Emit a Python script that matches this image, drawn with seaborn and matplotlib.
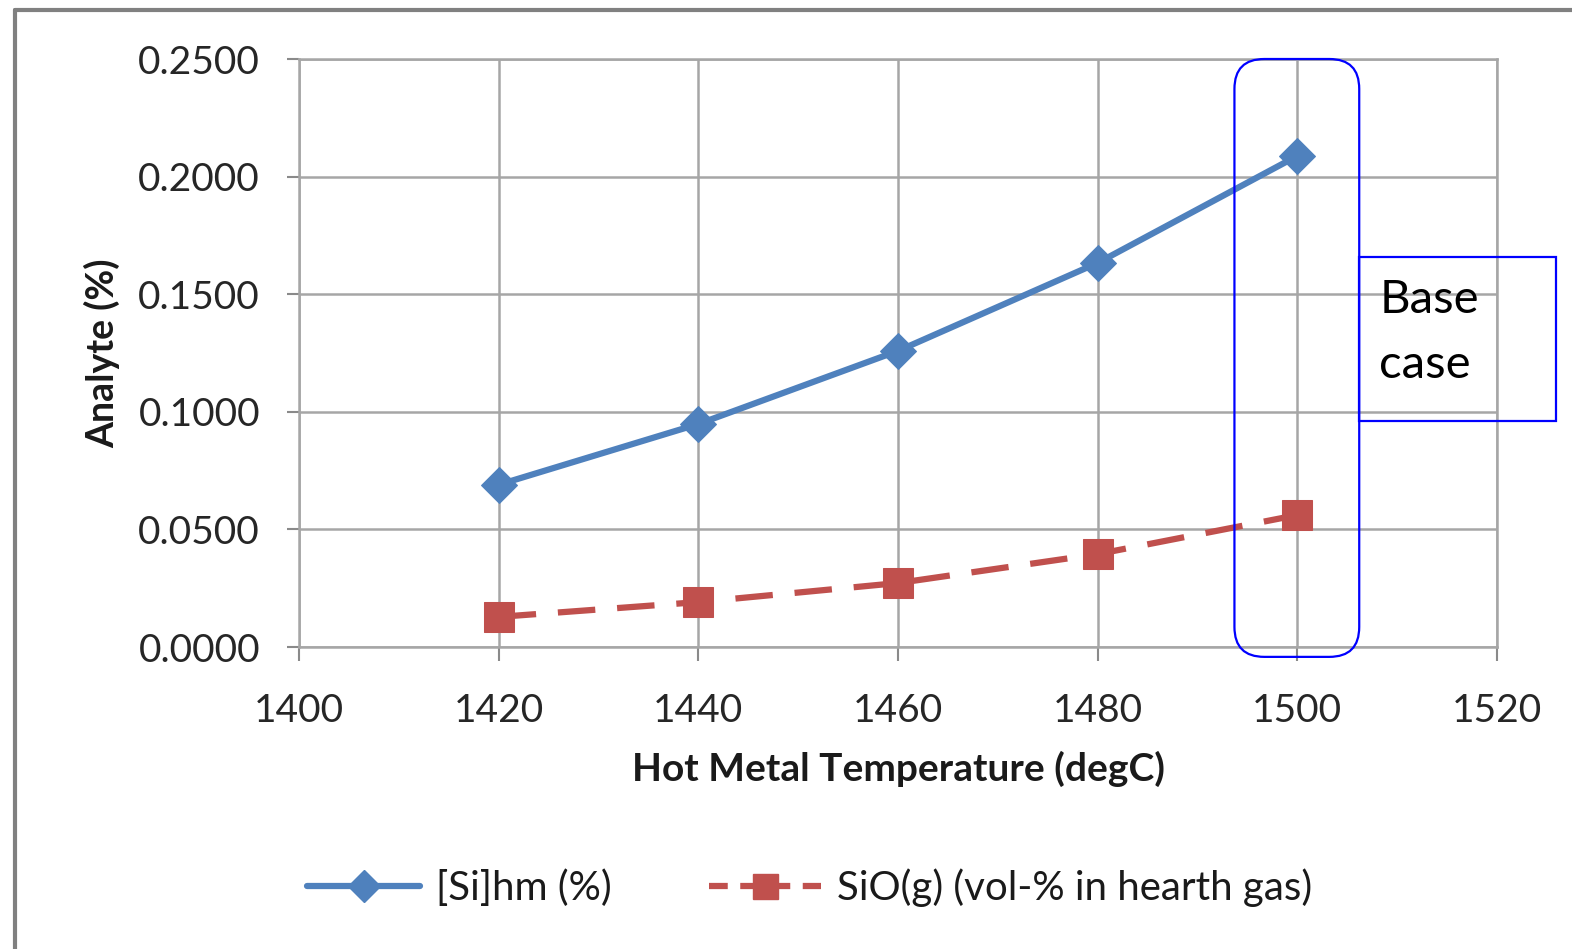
import matplotlib
matplotlib.use("Agg")
import matplotlib.pyplot as plt
import seaborn as sns
import pandas as pd
from matplotlib.patches import FancyBboxPatch, Rectangle
from matplotlib.lines import Line2D

temps = [1420, 1440, 1460, 1480, 1500]
si_hm = [0.0690, 0.0948, 0.1259, 0.1633, 0.2088]
sio_g = [0.0128, 0.0191, 0.0272, 0.0395, 0.0561]
series_names = ["[Si]hm (%)", "SiO(g) (vol-% in hearth gas)"]
x_ticks = [1400, 1420, 1440, 1460, 1480, 1500, 1520]
y_ticks = [0.0, 0.05, 0.10, 0.15, 0.20, 0.25]

sns.set_theme(style="white")
plt.rcParams['font.family'] = ['Lato', 'DejaVu Sans']

blue = "#4F81BD"
red = "#C0504D"
grid_c = "#A6A6A6"

fig = plt.figure(figsize=(15.72, 9.49), dpi=100)
ax = fig.add_axes([299/1572, 1-647/949, (1497-299)/1572, (647-59)/949])

df1 = pd.DataFrame({"t": temps, "v": si_hm})
df2 = pd.DataFrame({"t": temps, "v": sio_g})
sns.lineplot(data=df1, x="t", y="v", ax=ax, color=blue, lw=4.5, marker="D",
             markersize=18, markeredgecolor=blue, zorder=5)
sns.lineplot(data=df2, x="t", y="v", ax=ax, color=red, lw=4.5, marker="s",
             markersize=22, markeredgecolor=red, zorder=5)
ax.lines[-1].set_dashes([6, 3.5])

ax.set_xlim(1400, 1520)
ax.set_ylim(0, 0.25)
ax.set_xticks(x_ticks)
ax.set_yticks(y_ticks)
ax.set_yticklabels([f"{v:.4f}" for v in y_ticks])
ax.tick_params(axis="both", labelsize=28, colors="#8a8a8a", width=1.5,
               direction="out", bottom=True, left=True)
ax.tick_params(axis="x", length=10, pad=23)
ax.tick_params(axis="y", length=9, pad=19)
for lab in ax.get_xticklabels() + ax.get_yticklabels():
    lab.set_color("#262626")
ax.grid(True, color=grid_c, lw=1.8)
for s in ax.spines.values():
    s.set_color(grid_c)
    s.set_linewidth(1.8)

ax.set_xlabel("Hot Metal Temperature (degC)", fontsize=28, fontweight="bold",
              labelpad=16, color="#1a1a1a")
ax.set_ylabel("Analyte (%)", fontsize=27, fontweight="bold",
              labelpad=13, color="#1a1a1a")

# highlight rounded box around base case
rb = FancyBboxPatch((1493.7, -0.0042), 12.5, 0.2542,
                    boxstyle="round,pad=0,rounding_size=3.0",
                    mutation_aspect=0.2542/598*9.983/1,
                    fill=False, ec="#0000FF", lw=1.6, clip_on=False, zorder=6)
ax.add_patch(rb)

# Base case text box
tb = Rectangle((1506.2, (647-421)/2352.0), (1557-1360)/9.983, (421-257)/2352.0,
               fill=False, ec="#0000FF", lw=1.6, clip_on=False, zorder=6)
ax.add_patch(tb)
ax.text(1508.2, (647-300)/2352.0, "Base", fontsize=34,
        va="center", ha="left", color="black", zorder=7)
ax.text(1508.2, (647-365)/2352.0, "case", fontsize=34,
        va="center", ha="left", color="black", zorder=7)

h1 = Line2D([], [], color=blue, lw=4.5, marker="D", markersize=16)
h2 = Line2D([], [], color=red, lw=4.5, marker="s", markersize=18, dashes=[3, 2])
leg = fig.legend([h1, h2], series_names, loc="center", bbox_to_anchor=(810/1572, 1-888/949),
                 ncol=2, frameon=False, prop={"size": 29},
                 handlelength=2.8, columnspacing=2.4, handletextpad=0.4)
for t in leg.get_texts():
    t.set_color("#1a1a1a")

# outer chart frame
fig.add_artist(Line2D([15/1572, 15/1572], [0, 1-10/949], color="#808080", lw=3,
                      transform=fig.transFigure))
fig.add_artist(Line2D([15/1572, 1], [1-10/949, 1-10/949], color="#808080", lw=3,
                      transform=fig.transFigure))

fig.savefig("out.png", dpi=100)
